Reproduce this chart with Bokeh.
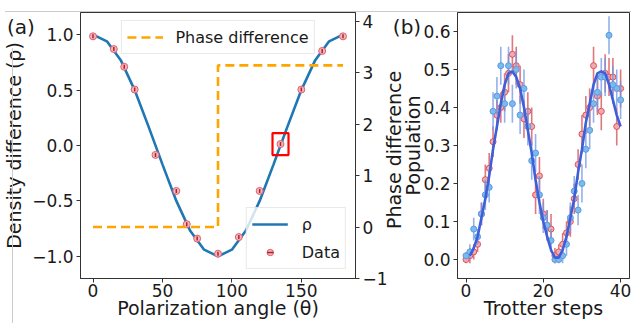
import math
from bokeh.plotting import figure
from bokeh.models import (ColumnDataSource, Range1d, LinearAxis, FixedTicker, Legend,
                          LegendItem, Div, CustomJSTickFormatter)
from bokeh.layouts import row
from bokeh.embed import file_html
from bokeh.resources import INLINE

# ---------------- panel (a) data ----------------
theta_curve = [0, 10, 20, 30, 40, 50, 60, 70, 80, 90, 100, 110, 120, 130, 140, 150, 160, 170, 180]
rho_curve = [1.0, 0.94, 0.77, 0.5, 0.17, -0.17, -0.5, -0.77, -0.94, -1.0,
             -0.94, -0.77, -0.5, -0.17, 0.17, 0.5, 0.77, 0.94, 1.0]
theta_data = [0, 15, 22.5, 30, 45, 60, 67.5, 75, 90, 105, 120, 135, 150, 165, 180]
rho_data = [0.985, 0.87, 0.71, 0.505, -0.085, -0.41, -0.71, -0.84, -0.976, -0.826,
            -0.41, 0.013, 0.505, 0.853, 0.985]
phase_theta = [0, 90, 90, 180]
phase_value = [0.0, 0.0, 3.1416, 3.1416]
highlight_theta = [135]
highlight_rho = [0.013]

# ---------------- panel (b) data ----------------
steps = list(range(41))
pop_red = [0.0, 0.01, 0.02, 0.04, 0.12, 0.21, 0.24, 0.31, 0.38, 0.40,
           0.44, 0.49, 0.54, 0.51, 0.46, 0.37, 0.39, 0.35, 0.17, 0.22,
           0.12, 0.09, 0.08, 0.01, 0.02, 0.04, 0.07, 0.10, 0.16, 0.25,
           0.33, 0.38, 0.40, 0.51, 0.43, 0.39, 0.49, 0.48, 0.48, 0.35, 0.45]
err_red = [0.01, 0.02, 0.02, 0.02, 0.03, 0.04, 0.04, 0.04, 0.04, 0.04,
           0.05, 0.05, 0.05, 0.05, 0.05, 0.05, 0.05, 0.05, 0.05, 0.05,
           0.04, 0.04, 0.04, 0.02, 0.02, 0.03, 0.03, 0.04, 0.04, 0.04,
           0.05, 0.05, 0.05, 0.05, 0.05, 0.05, 0.05, 0.05, 0.05, 0.05, 0.05]
pop_blue = [0.01, 0.02, 0.08, 0.06, 0.12, 0.17, 0.19, 0.39, 0.43, 0.51,
            0.41, 0.51, 0.41, 0.50, 0.38, 0.45, 0.35, 0.26, 0.28, 0.17,
            0.11, 0.09, 0.05, 0.0, 0.0, 0.01, 0.04, 0.11, 0.18, 0.13,
            0.20, 0.29, 0.34, 0.41, 0.44, 0.48, 0.48, 0.59, 0.46, 0.45, 0.42]
err_blue = [0.01, 0.02, 0.03, 0.02, 0.03, 0.04, 0.04, 0.05, 0.05, 0.05,
            0.05, 0.05, 0.05, 0.05, 0.05, 0.05, 0.05, 0.05, 0.05, 0.05,
            0.04, 0.04, 0.03, 0.01, 0.01, 0.02, 0.03, 0.04, 0.04, 0.04,
            0.05, 0.05, 0.05, 0.05, 0.05, 0.05, 0.05, 0.05, 0.05, 0.05, 0.05]
fit_steps = list(range(1, 41))
fit_pop = [0.01, 0.03, 0.06, 0.11, 0.16, 0.22, 0.29, 0.35, 0.41, 0.46,
           0.49, 0.495, 0.48, 0.45, 0.40, 0.34, 0.28, 0.21, 0.15, 0.10,
           0.06, 0.025, 0.005, 0.005, 0.025, 0.06, 0.11, 0.16, 0.23, 0.29,
           0.36, 0.41, 0.46, 0.49, 0.495, 0.49, 0.46, 0.42, 0.38, 0.35]

FONT = "DejaVu Sans"
TXT = "#1a1a1a"


def fmt(dec):
    return CustomJSTickFormatter(code="return tick.toFixed(%d).replace('-', '\u2212');" % dec)


def style_axis(ax, label=None, label_standoff=4, tick_standoff=3):
    ax.axis_label_text_font = FONT
    ax.axis_label_text_font_size = "19px"
    ax.axis_label_text_font_style = "normal"
    ax.axis_label_text_color = TXT
    ax.major_label_text_font = FONT
    ax.major_label_text_font_size = "17px"
    ax.major_label_text_color = TXT
    ax.minor_tick_line_color = None
    ax.major_tick_in = 0
    ax.major_tick_out = 4
    ax.major_tick_line_color = "#333333"
    ax.axis_line_color = "#333333"
    ax.major_label_standoff = tick_standoff
    ax.axis_label_standoff = label_standoff
    if label is not None:
        ax.axis_label = label


def floating_text(text, left, top, w, h, size="20px", rotate=False):
    st = {"position": "absolute", "left": "%dpx" % left, "top": "%dpx" % top,
          "z-index": "10", "font-family": FONT, "font-size": size, "color": TXT,
          "line-height": "%dpx" % h, "white-space": "nowrap", "text-align": "center",
          "pointer-events": "none"}
    if rotate:
        st["transform"] = "rotate(-90deg)"
        st["transform-origin"] = "50% 50%"
    return Div(text=text, width=w, height=h, styles=st)


def frame_line(left, top, w, h, sides):
    st = {"position": "absolute", "left": "%dpx" % left, "top": "%dpx" % top,
          "z-index": "9", "pointer-events": "none", "box-sizing": "border-box"}
    for s in sides:
        st["border-%s" % s] = "1px solid #cccccc"
    return Div(text="", width=w, height=h, styles=st)


# ---------------- figure (a) ----------------
pa = figure(width=392, height=323, output_backend="svg", toolbar_location=None,
            x_range=Range1d(-9, 189), y_range=Range1d(-1.2, 1.2),
            min_border_left=80, min_border_right=37, min_border_top=12, min_border_bottom=45)
pa.extra_y_ranges = {"phase": Range1d(-1.0, 4.17)}
pa.xgrid.visible = False
pa.ygrid.visible = False
pa.outline_line_color = "#333333"
pa.background_fill_color = "white"
pa.border_fill_color = "white"

r_rho = pa.line(theta_curve, rho_curve, line_color="#1f77b4", line_width=2.6)

src_a = ColumnDataSource(dict(x=theta_data, y=rho_data))
r_pts = pa.scatter("x", "y", source=src_a, size=7, fill_color="#f5b3bd",
                   line_color="#d66470", line_width=1)
r_bar = pa.scatter("x", "y", source=src_a, marker="dash", angle=math.pi / 2, size=4,
                   line_color="#b22222", line_width=1.5)

r_phase = pa.line(phase_theta, phase_value, y_range_name="phase", line_color="#ffa500",
                  line_width=2.6, line_dash="9 5")

pa.rect(x=highlight_theta, y=highlight_rho, width=16, height=22, width_units="screen",
        height_units="screen", fill_alpha=0, line_color="#ff0000", line_width=2.2)

left_ax = pa.left[0]
left_ax.ticker = FixedTicker(ticks=[-1.0, -0.5, 0.0, 0.5, 1.0])
left_ax.formatter = fmt(1)
style_axis(left_ax, "Density difference (ρ)")

right_ax = LinearAxis(y_range_name="phase", ticker=FixedTicker(ticks=[-1, 0, 1, 2, 3, 4]),
                      formatter=fmt(0))
style_axis(right_ax)
pa.add_layout(right_ax, "right")

bottom_ax = pa.below[0]
bottom_ax.ticker = FixedTicker(ticks=[0, 50, 100, 150])
style_axis(bottom_ax, "Polarization angle (θ)", label_standoff=-3, tick_standoff=1)


def style_legend(lg):
    lg.label_text_font = FONT
    lg.label_text_font_size = "16px"
    lg.label_text_color = TXT
    lg.border_line_color = "#d4d4d4"
    lg.border_line_width = 1
    lg.background_fill_alpha = 0.8
    lg.padding = 5
    lg.spacing = 6
    lg.margin = 8
    lg.glyph_width = 36
    lg.glyph_height = 16
    lg.label_height = 22
    lg.label_standoff = 13


leg1 = Legend(items=[LegendItem(label="Phase difference", renderers=[r_phase])],
              location="top_center")
style_legend(leg1)
leg2 = Legend(items=[LegendItem(label="ρ", renderers=[r_rho]),
                     LegendItem(label="Data", renderers=[r_pts, r_bar])],
              location="bottom_right")
style_legend(leg2)
leg2.margin = 9
leg2.label_standoff = 14
pa.add_layout(leg1, "center")
pa.add_layout(leg2, "center")

# ---------------- figure (b) ----------------
pb = figure(width=239, height=323, output_backend="svg", toolbar_location=None,
            x_range=Range1d(-2.2, 42.3), y_range=Range1d(-0.05, 0.65),
            min_border_left=65, min_border_right=2, min_border_top=12, min_border_bottom=45)
pb.xgrid.visible = False
pb.ygrid.visible = False
pb.outline_line_color = "#333333"
pb.border_fill_color = "white"

src_r = ColumnDataSource(dict(x=steps, y=pop_red,
                              lo=[v - e for v, e in zip(pop_red, err_red)],
                              hi=[v + e for v, e in zip(pop_red, err_red)]))
src_b = ColumnDataSource(dict(x=steps, y=pop_blue,
                              lo=[v - e for v, e in zip(pop_blue, err_blue)],
                              hi=[v + e for v, e in zip(pop_blue, err_blue)]))
pb.segment(x0="x", y0="lo", x1="x", y1="hi", source=src_r, line_color="#d9545c",
           line_alpha=0.8, line_width=1.6)
pb.scatter("x", "y", source=src_r, size=6, fill_color="#f5a8b0", line_color="#d9545c",
           line_width=1)
pb.segment(x0="x", y0="lo", x1="x", y1="hi", source=src_b, line_color="#6f95e6",
           line_alpha=0.75, line_width=1.6)
pb.scatter("x", "y", source=src_b, size=6, fill_color="#7db8ee", line_color="#5a9be0",
           line_width=1)
pb.line(fit_steps, fit_pop, line_color="#3d5fd9", line_width=2.6)

bx = pb.below[0]
bx.ticker = FixedTicker(ticks=[0, 20, 40])
style_axis(bx, "Trotter steps", label_standoff=-3, tick_standoff=1)
ly = pb.left[0]
ly.ticker = FixedTicker(ticks=[0.0, 0.1, 0.2, 0.3, 0.4, 0.5, 0.6])
ly.formatter = fmt(1)
style_axis(ly, "Population", label_standoff=-4)

lab_a = floating_text("(a)", 0, 9, 32, 26)
lab_b = floating_text("(b)", 386, 9, 32, 26)
lab_phase = floating_text("Phase difference", 389 - 90, 145 - 12, 180, 24, size="19px",
                          rotate=True)
edge_tb = frame_line(0, 6, 630, 317, ["top", "bottom"])
edge_l = frame_line(7, 43, 2, 280, ["left"])

layout = row(pa, pb, lab_a, lab_b, lab_phase, edge_tb, edge_l, spacing=0)
open("out.html", "w").write(file_html(layout, INLINE))
